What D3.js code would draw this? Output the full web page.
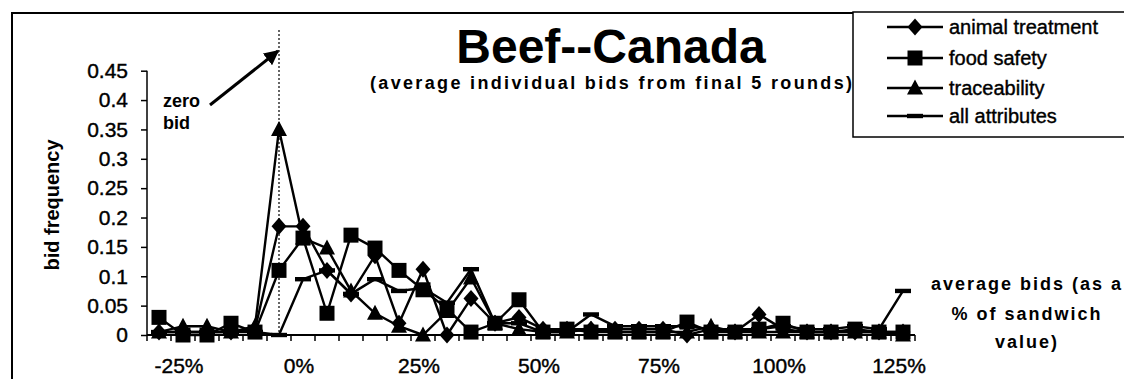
<!DOCTYPE html>
<html lang="en">
<head>
<meta charset="UTF-8">
<title>Beef--Canada</title>
<script src="https://cdn.jsdelivr.net/npm/d3@7/dist/d3.min.js"></script>
<style>
  body { margin: 0; background: #fff; }
  svg { display: block; font-family: "Liberation Sans", Arial, sans-serif; }
</style>
</head>
<body>
<div id="chart"></div>
<script>
// bid categories (% of sandwich value), 5% steps
var cats = d3.range(-25, 131, 5);
var yTicks = [0, 0.05, 0.1, 0.15, 0.2, 0.25, 0.3, 0.35, 0.4, 0.45];
var xLabels = [-25, 0, 25, 50, 75, 100, 125];

var animal = [0.005, 0.005, 0.005, 0.005, 0.01, 0.185, 0.185, 0.11, 0.07, 0.135,
              0.02, 0.112, 0, 0.062, 0.02, 0.03, 0.01, 0.01, 0.01, 0.01,
              0.01, 0.01, 0, 0.01, 0.005, 0.035, 0.01, 0.005, 0.005, 0.005,
              0.005, 0.005];
var food = [0.03, 0, 0, 0.02, 0.005, 0.11, 0.165, 0.037, 0.17, 0.148,
            0.11, 0.077, 0.045, 0.005, 0.02, 0.06, 0.005, 0.01, 0.005, 0.005,
            0.005, 0.005, 0.022, 0.005, 0.005, 0.01, 0.02, 0.005, 0.005, 0.01,
            0.005, 0.005];
var trace = [0.005, 0.015, 0.015, 0.005, 0.015, 0.35, 0.165, 0.148, 0.075, 0.037,
             0.015, 0, 0.04, 0.097, 0.02, 0.01, 0.005, 0.005, 0.01, 0.005,
             0.005, 0.005, 0.005, 0.015, 0.005, 0.005, 0.005, 0.005, 0.005, 0.005,
             0.005, 0];
var allAttr = [0.005, 0.005, 0.005, 0.005, 0.005, 0, 0.095, 0.11, 0.07, 0.095,
               0.075, 0.08, 0.055, 0.112, 0.02, 0.02, 0.005, 0.005, 0.035, 0.015,
               0.015, 0.015, 0.015, 0.01, 0.01, 0.01, 0.015, 0.01, 0.01, 0.015,
               0.01, 0.075];

var series = [
  {name: "animal treatment", values: animal, shape: "diamond"},
  {name: "food safety", values: food, shape: "square"},
  {name: "traceability", values: trace, shape: "triangle"},
  {name: "all attributes", values: allAttr, shape: "dash"}
];

var W = 1124, H = 379;
var svg = d3.select("#chart").append("svg")
    .attr("width", W).attr("height", H);

// outer chart frame
svg.append("rect")
    .attr("x", 12).attr("y", 13)
    .attr("width", W).attr("height", H)
    .attr("fill", "none").attr("stroke", "#000").attr("stroke-width", 2);

var x = d3.scaleBand().domain(cats).range([147, 147 + cats.length * 24]).padding(0);
var y = d3.scaleLinear().domain([0, 0.45]).range([335, 70.7]);
var bw = x.bandwidth();
function cx(c) { return x(c) + bw / 2; }

// y axis
var yAxis = svg.append("g")
    .attr("transform", "translate(147,0)")
    .call(d3.axisLeft(y).tickValues(yTicks).tickSize(6).tickPadding(13)
        .tickFormat(function(d) { return String(d); }));
yAxis.select(".domain").attr("d", "M0," + y(0.45) + "V" + y(0)).attr("stroke-width", 1.5);
yAxis.selectAll(".tick line").attr("stroke-width", 1.5);
yAxis.selectAll("text")
    .attr("font-size", 21).attr("font-family", "Liberation Sans, Arial")
    .attr("stroke", "#000").attr("stroke-width", 0.4);

// x axis with ticks between categories
var xg = svg.append("g");
xg.append("line")
    .attr("x1", 147).attr("x2", x.range()[1])
    .attr("y1", y(0)).attr("y2", y(0))
    .attr("stroke", "#000").attr("stroke-width", 2);
xg.selectAll("line.tk")
    .data(cats.concat(["end"]))
    .enter().append("line")
    .attr("class", "tk")
    .attr("x1", function(d) { return d === "end" ? x.range()[1] : x(d); })
    .attr("x2", function(d) { return d === "end" ? x.range()[1] : x(d); })
    .attr("y1", y(0)).attr("y2", y(0) + 6)
    .attr("stroke", "#000").attr("stroke-width", 1.5);
xg.selectAll("text")
    .data(xLabels)
    .enter().append("text")
    .attr("x", function(d) { return cx(d) + 20; })
    .attr("y", 373)
    .attr("text-anchor", "middle")
    .attr("font-size", 21)
    .attr("stroke", "#000").attr("stroke-width", 0.4)
    .text(function(d) { return d + "%"; });

// axis title
svg.append("text")
    .attr("transform", "translate(59,205) rotate(-90)")
    .attr("text-anchor", "middle")
    .attr("font-size", 20).attr("font-weight", "bold")
    .text("bid frequency");

// zero bid marker
svg.append("line")
    .attr("x1", cx(0)).attr("x2", cx(0))
    .attr("y1", 30).attr("y2", y(0))
    .attr("stroke", "#000").attr("stroke-width", 1.2)
    .attr("stroke-dasharray", "2,2");

svg.append("defs").append("marker")
    .attr("id", "arrow").attr("viewBox", "0 0 10 10")
    .attr("refX", 9).attr("refY", 5)
    .attr("markerWidth", 5).attr("markerHeight", 5)
    .attr("orient", "auto")
    .append("path").attr("d", "M0,0L10,5L0,10z").attr("fill", "#000");

svg.append("line")
    .attr("x1", 210).attr("y1", 105)
    .attr("x2", 278).attr("y2", 51)
    .attr("stroke", "#000").attr("stroke-width", 3)
    .attr("marker-end", "url(#arrow)");

svg.append("text").attr("x", 163).attr("y", 107)
    .attr("font-size", 18).attr("font-weight", "bold").text("zero");
svg.append("text").attr("x", 163).attr("y", 129)
    .attr("font-size", 18).attr("font-weight", "bold").text("bid");

// marker shapes
function markerPath(shape) {
  if (shape === "diamond") return "M0,-8.5L7.5,0L0,8.5L-7.5,0Z";
  if (shape === "square") return "M-7.5,-7.5H7.5V7.5H-7.5Z";
  if (shape === "triangle") return "M0,-8.5L8,6.5H-8Z";
  return "M-8,-2.2H8V2.2H-8Z";
}

var line = d3.line()
    .x(function(d, i) { return cx(cats[i]); })
    .y(function(d) { return y(d); });

series.forEach(function(s) {
  var g = svg.append("g");
  g.append("path")
      .attr("d", line(s.values))
      .attr("fill", "none").attr("stroke", "#000").attr("stroke-width", 2.4);
  g.selectAll("path.m")
      .data(s.values)
      .enter().append("path")
      .attr("class", "m")
      .attr("transform", function(d, i) { return "translate(" + cx(cats[i]) + "," + y(d) + ")"; })
      .attr("d", markerPath(s.shape))
      .attr("fill", "#000");
});

// titles
svg.append("text")
    .attr("x", 611).attr("y", 63)
    .attr("text-anchor", "middle")
    .attr("font-size", 48).attr("font-weight", "bold")
    .text("Beef--Canada");
svg.append("text")
    .attr("x", 370).attr("y", 89)
    .attr("font-size", 18).attr("font-weight", "bold")
    .attr("textLength", 482).attr("lengthAdjust", "spacing")
    .text("(average individual bids from final 5 rounds)");

// legend
var lg = svg.append("g");
lg.append("rect")
    .attr("x", 853).attr("y", 12)
    .attr("width", 300).attr("height", 125)
    .attr("fill", "#fff").attr("stroke", "#000").attr("stroke-width", 1.5);
var legendY = [27, 58, 88, 116];
series.forEach(function(s, i) {
  var ly = legendY[i];
  lg.append("line")
      .attr("x1", 887).attr("x2", 943).attr("y1", ly).attr("y2", ly)
      .attr("stroke", "#000").attr("stroke-width", 2.4);
  lg.append("path")
      .attr("transform", "translate(915," + ly + ")")
      .attr("d", markerPath(s.shape)).attr("fill", "#000");
  lg.append("text")
      .attr("x", 949).attr("y", ly + 7)
      .attr("font-size", 20)
      .attr("stroke", "#000").attr("stroke-width", 0.4)
      .text(s.name);
});

// x axis note
var note = ["average bids (as a", "% of sandwich", "value)"];
var noteY = [290, 320, 348];
svg.selectAll("text.note")
    .data(note)
    .enter().append("text")
    .attr("class", "note")
    .attr("x", 1027).attr("y", function(d, i) { return noteY[i]; })
    .attr("text-anchor", "middle")
    .attr("font-size", 18).attr("font-weight", "bold")
    .attr("letter-spacing", 2)
    .text(function(d) { return d; });
</script>
</body>
</html>
